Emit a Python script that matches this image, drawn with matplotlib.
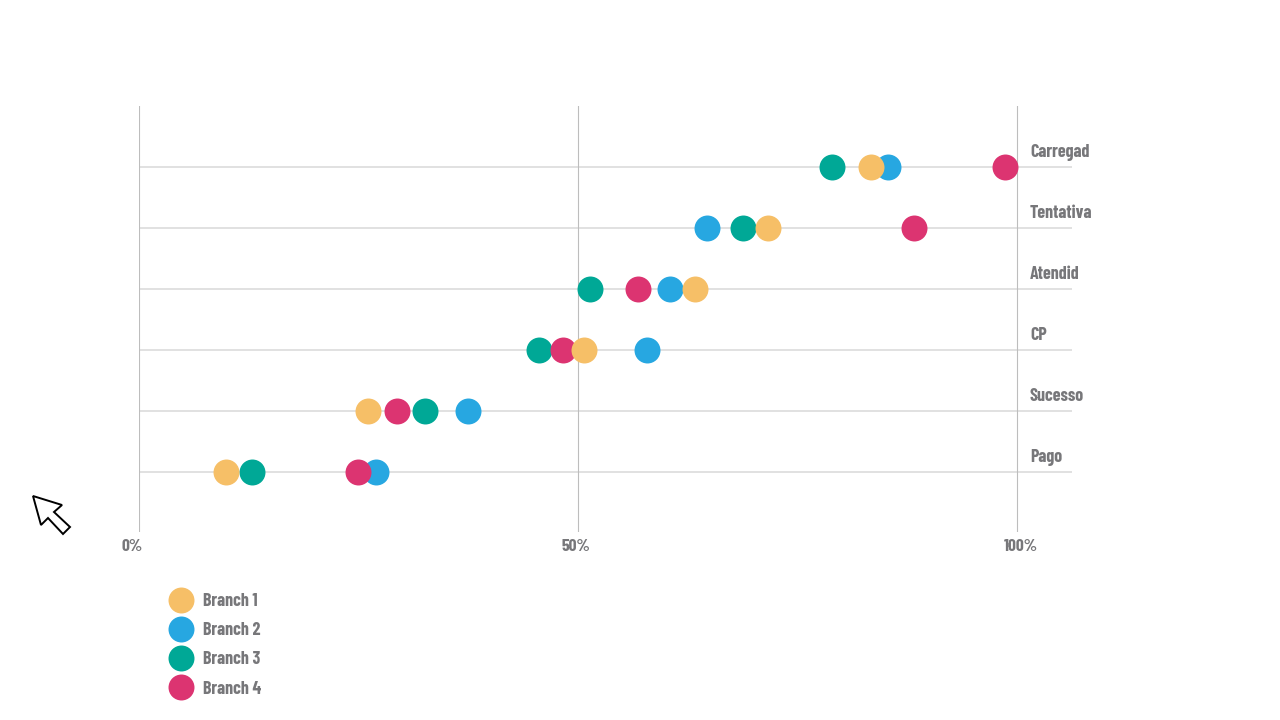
import matplotlib
matplotlib.use('Agg')
import matplotlib.pyplot as plt
from matplotlib.patches import Polygon

plt.rcParams['font.family'] = ['Barlow Condensed', 'Roboto', 'DejaVu Sans']

categorias = ['Pago', 'Sucesso', 'CP', 'Atendid', 'Tentativa', 'Carregad']
branch1 = [9.9, 26.1, 50.7, 63.3, 71.6, 83.3]
branch2 = [27.0, 37.4, 57.8, 60.5, 64.7, 85.3]
branch3 = [12.8, 32.6, 45.5, 51.3, 68.8, 78.9]
branch4 = [24.9, 29.4, 48.3, 56.8, 88.2, 98.6]
ticks = [0, 50, 100]
tick_labels = ['0%', '50%', '100%']
tick_offsets = [-7.5, -2, 3.5]

W, H = 1280, 720
cinza = '#77777a'

fig = plt.figure(figsize=(W / 100, H / 100), dpi=100, facecolor='white')
ax = fig.add_axes([139.2 / W, 1 - 531.6 / H, (1072 - 139.2) / W, (531.6 - 105.6) / H])
ax.set_xlim(0, (1072 - 139.2) / 8.78)
ax.set_ylim(-60 / 61, 6)
ax.axis('off')

y = list(range(len(categorias)))
for v in y:
    ax.axhline(v, color='#dcdcdc', lw=1.2, zorder=1)
for t in ticks:
    ax.axvline(t, color='#bdbdbd', lw=0.8, zorder=2)

# ordem de desenho: azul, verde, rosa, amarelo
l2, = ax.plot(branch2, y, 'o', color='#27a7e1', ms=18.7, mew=0, label='Branch 2', zorder=3)
l3, = ax.plot(branch3, y, 'o', color='#00a896', ms=18.7, mew=0, label='Branch 3', zorder=4)
l4, = ax.plot(branch4, y, 'o', color='#dc3471', ms=18.7, mew=0, label='Branch 4', zorder=5)
l1, = ax.plot(branch1, y, 'o', color='#f6bf67', ms=18.7, mew=0, label='Branch 1', zorder=6)

for v, nome in zip(y, categorias):
    ax.annotate(nome, xy=(1, v), xycoords=('axes fraction', 'data'), xytext=(-42, 10),
                textcoords='offset pixels', ha='left', va='baseline',
                fontsize=13, fontweight='bold', color=cinza)

for t, rot, off in zip(ticks, tick_labels, tick_offsets):
    ax.annotate(rot, xy=(t, 0), xycoords=('data', 'axes fraction'), xytext=(off, -14.5),
                textcoords='offset pixels', ha='center', va='center',
                fontsize=12.5, fontweight='bold', color=cinza)

fig.legend(handles=[l1, l2, l3, l4], loc='upper left',
           bbox_to_anchor=(155.8 / W, 1 - 585.6 / H), frameon=False,
           prop={'size': 13, 'weight': 'bold'}, labelcolor=cinza, borderaxespad=0,
           labelspacing=0.68, handletextpad=0.22, handlelength=2.0, borderpad=0.4)

# cursor do mouse
cursor = [(33, 496), (62, 505), (54, 512), (70, 527), (63, 534), (48, 518), (41, 525)]
fig.add_artist(Polygon([(a / W, 1 - b / H) for a, b in cursor], closed=True,
                       transform=fig.transFigure, fc='white', ec='black', lw=1.4))

fig.savefig('out.png', dpi=100)
